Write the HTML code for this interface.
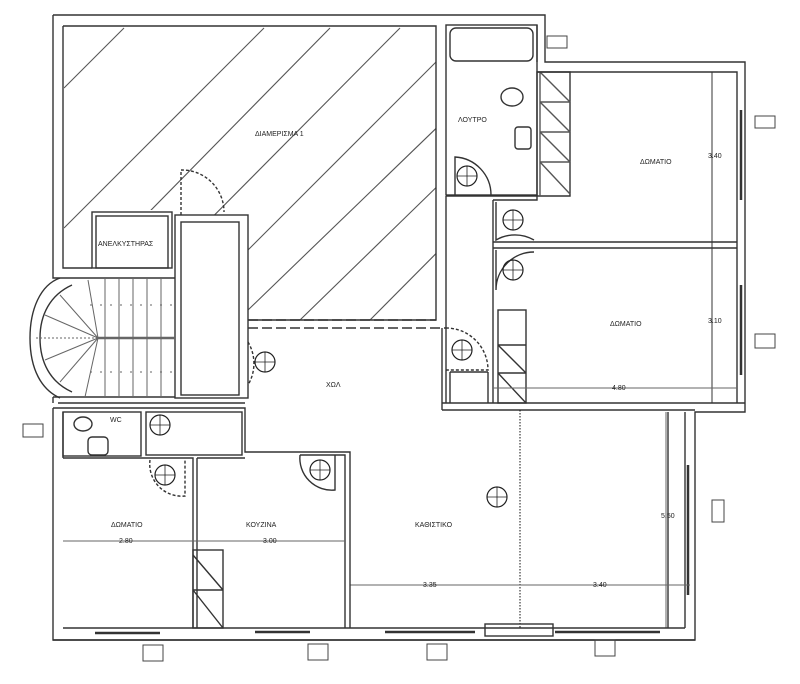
<!DOCTYPE html>
<html><head><meta charset="utf-8"><style>
html,body{margin:0;padding:0;background:#fff;}
svg{display:block;}
text{font-family:"Liberation Sans",sans-serif;font-size:7px;fill:#222;}
</style></head><body>
<svg width="800" height="684" viewBox="0 0 800 684" xmlns="http://www.w3.org/2000/svg">
<defs>
<clipPath id="hc"><polygon points="64,27 436,27 436,320 248,320 248,215 175,215 175,210 92,210 92,268 64,268"/></clipPath>
</defs>
<g stroke="#333" stroke-width="1.4" fill="none">
<g clip-path="url(#hc)" stroke="#555" stroke-width="1.1">
<line x1="64" y1="88" x2="124" y2="28"/>
<line x1="64" y1="228" x2="264" y2="28"/>
<line x1="100" y1="262" x2="330" y2="28"/>
<line x1="150" y1="280" x2="400" y2="28"/>
<line x1="248" y1="250" x2="470" y2="28"/>
<line x1="248" y1="310" x2="540" y2="28"/>
<line x1="300" y1="320" x2="600" y2="28"/>
<line x1="370" y1="320" x2="660" y2="28"/>
</g>
<path d="M53,15 H545 V62 H745 V412 H695 V640 H53 V458"/>
<path d="M63,26 H436 V320 H248"/>
<path d="M63,26 V268 H92"/>
<path d="M53,15 V268"/>
<rect x="92" y="212" width="80" height="56"/>
<rect x="96" y="216" width="72" height="52"/>
<rect x="175" y="215" width="73" height="183"/>
<rect x="181" y="222" width="58" height="173"/>
<path d="M181,215 V170 A42,42 0 0 1 224,212" stroke-dasharray="3,2"/>
<path d="M53,268 V278 H175 M53,397 H175 M53,397 V403"/>
<path d="M60,278 C40,285 30,310 30,338 C30,370 42,390 60,398"/>
<path d="M72,285 C50,295 40,315 40,338 C40,362 50,382 72,392"/>
<g stroke="#666" stroke-width="1">
<line x1="105" y1="278" x2="105" y2="397"/><line x1="119" y1="278" x2="119" y2="397"/>
<line x1="133" y1="278" x2="133" y2="397"/><line x1="147" y1="278" x2="147" y2="397"/>
<line x1="161" y1="278" x2="161" y2="397"/>
<line x1="97" y1="338" x2="175" y2="338" stroke-width="2.5"/>
<line x1="36" y1="338" x2="97" y2="338" stroke-dasharray="2,2"/>
<line x1="88" y1="280" x2="98" y2="338"/><line x1="60" y1="295" x2="98" y2="338"/>
<line x1="45" y1="315" x2="98" y2="338"/><line x1="45" y1="360" x2="98" y2="338"/>
<line x1="60" y1="382" x2="98" y2="338"/><line x1="85" y1="397" x2="98" y2="338"/>
<line x1="90" y1="305" x2="175" y2="305" stroke-dasharray="2,8"/>
<line x1="90" y1="372" x2="175" y2="372" stroke-dasharray="2,8"/>
</g>
<path d="M248,320 H436 M248,328 H446" stroke-dasharray="10,4"/>
<path d="M248,342 A42,42 0 0 1 248,385" stroke-dasharray="3,2"/>
<rect x="446" y="25" width="91" height="170"/>
<rect x="450" y="28" width="83" height="33" rx="6"/>
<path d="M537,25 V62"/>
<path d="M537,72 H570 V196 H446"/>
<g stroke="#555"><line x1="540" y1="72" x2="570" y2="102"/><line x1="540" y1="102" x2="570" y2="132"/><line x1="540" y1="132" x2="570" y2="162"/><line x1="540" y1="162" x2="570" y2="194"/>
<line x1="540" y1="102" x2="570" y2="102"/><line x1="540" y1="132" x2="570" y2="132"/><line x1="540" y1="162" x2="570" y2="162"/><line x1="540" y1="72" x2="540" y2="196"/></g>
<ellipse cx="512" cy="97" rx="11" ry="9"/>
<rect x="515" y="127" width="16" height="22" rx="3"/>
<path d="M455,196 V157 A38,38 0 0 1 491,195"/>
<path d="M446,196 V403 M493,200 V403"/>
<path d="M442,403 H745 M442,410 H695"/>
<path d="M442,328 V410"/>
<path d="M493,200 H537 V72 H737 V403"/>
<path d="M493,242 H737 M493,248 H737"/>
<path d="M496,202 V240 A38,38 0 0 1 534,240"/>
<path d="M496,250 V290 A38,38 0 0 1 534,252"/>
<rect x="498" y="310" width="28" height="93"/>
<line x1="498" y1="345" x2="526" y2="345"/><line x1="498" y1="373" x2="526" y2="373"/>
<line x1="498" y1="345" x2="526" y2="373"/><line x1="498" y1="373" x2="526" y2="403"/>
<path d="M446,328 A42,42 0 0 1 488,370 H446" stroke-dasharray="3,2"/>
<path d="M450,372 H488 M450,372 V403 M488,372 V403"/>
<line x1="712" y1="72" x2="712" y2="403" stroke-width="1"/>
<line x1="493" y1="388" x2="737" y2="388" stroke="#666" stroke-width="1"/>
<path d="M741,110 V200 M741,285 V375" stroke-width="2.5"/>
<path d="M668,412 V628 M685,412 V628"/>
<path d="M688,465 V595" stroke-width="2.5"/>
<line x1="520" y1="410" x2="520" y2="628" stroke-dasharray="1.5,1.5" stroke="#111" stroke-width="1"/>
<line x1="350" y1="585" x2="690" y2="585" stroke="#666" stroke-width="1"/>
<line x1="666" y1="412" x2="666" y2="628" stroke="#666" stroke-width="1"/>
<path d="M63,628 H685 M53,640 H695"/>
<g stroke-width="2.5"><line x1="95" y1="633" x2="160" y2="633"/><line x1="255" y1="632" x2="310" y2="632"/><line x1="385" y1="632" x2="475" y2="632"/><line x1="555" y1="632" x2="660" y2="632"/></g>
<rect x="485" y="624" width="68" height="12"/>
<path d="M53,408 H245 V452 H350 V628 M53,408 V458 M63,412 V458"/>
<path d="M58,403 H245"/>
<rect x="63" y="412" width="78" height="44"/>
<rect x="146" y="412" width="96" height="43"/>
<ellipse cx="83" cy="424" rx="9" ry="7"/>
<rect x="88" y="437" width="20" height="18" rx="4"/>
<path d="M63,458 H193 V628 M197,458 V628 M197,458 H245 M300,455 H345 V628"/>
<path d="M150,460 A32,32 0 0 0 185,496 V460" stroke-dasharray="3,2"/>
<path d="M300,455 A32,32 0 0 0 335,490 V455"/>
<rect x="193" y="550" width="30" height="78"/>
<line x1="193" y1="590" x2="223" y2="590"/><line x1="193" y1="555" x2="223" y2="590"/><line x1="193" y1="590" x2="223" y2="628"/>
<line x1="63" y1="541" x2="345" y2="541" stroke="#666" stroke-width="1"/>
</g>
<g stroke="#222" fill="none" stroke-width="1.2">
<circle cx="467" cy="176" r="10"/><circle cx="513" cy="220" r="10"/><circle cx="513" cy="270" r="10"/>
<circle cx="462" cy="350" r="10"/><circle cx="265" cy="362" r="10"/><circle cx="160" cy="425" r="10"/>
<circle cx="165" cy="475" r="10"/><circle cx="320" cy="470" r="10"/><circle cx="497" cy="497" r="10"/>
</g>
<g stroke="#222" stroke-width="0.8">
<path d="M457,176 H477 M467,166 V186 M503,220 H523 M513,210 V230 M503,270 H523 M513,260 V280 M452,350 H472 M462,340 V360 M255,362 H275 M265,352 V372 M150,425 H170 M160,415 V435 M155,475 H175 M165,465 V485 M310,470 H330 M320,460 V480 M487,497 H507 M497,487 V507"/>
</g>
<g stroke="#444" fill="none">
<rect x="547" y="36" width="20" height="12"/><rect x="755" y="116" width="20" height="12"/>
<rect x="755" y="334" width="20" height="14"/><rect x="23" y="424" width="20" height="13"/>
<rect x="712" y="500" width="12" height="22"/><rect x="143" y="645" width="20" height="16"/>
<rect x="308" y="644" width="20" height="16"/><rect x="427" y="644" width="20" height="16"/>
<rect x="595" y="640" width="20" height="16"/>
</g>
<text x="255" y="136">ΔΙΑΜΕΡΙΣΜΑ 1</text>
<text x="98" y="246">ΑΝΕΛΚΥΣΤΗΡΑΣ</text>
<text x="458" y="122">ΛΟΥΤΡΟ</text>
<text x="640" y="164">ΔΩΜΑΤΙΟ</text>
<text x="610" y="326">ΔΩΜΑΤΙΟ</text>
<text x="326" y="387">ΧΩΛ</text>
<text x="110" y="422">WC</text>
<text x="111" y="527">ΔΩΜΑΤΙΟ</text>
<text x="246" y="527">ΚΟΥΖΙΝΑ</text>
<text x="415" y="527">ΚΑΘΙΣΤΙΚΟ</text>
<text x="119" y="543">2.80</text><text x="263" y="543">3.00</text>
<text x="423" y="587">3.35</text><text x="593" y="587">3.40</text>
<text x="612" y="390">4.80</text>
<text x="708" y="158">3.40</text><text x="708" y="323">3.10</text><text x="661" y="518">5.50</text>
</svg>
</body></html>
